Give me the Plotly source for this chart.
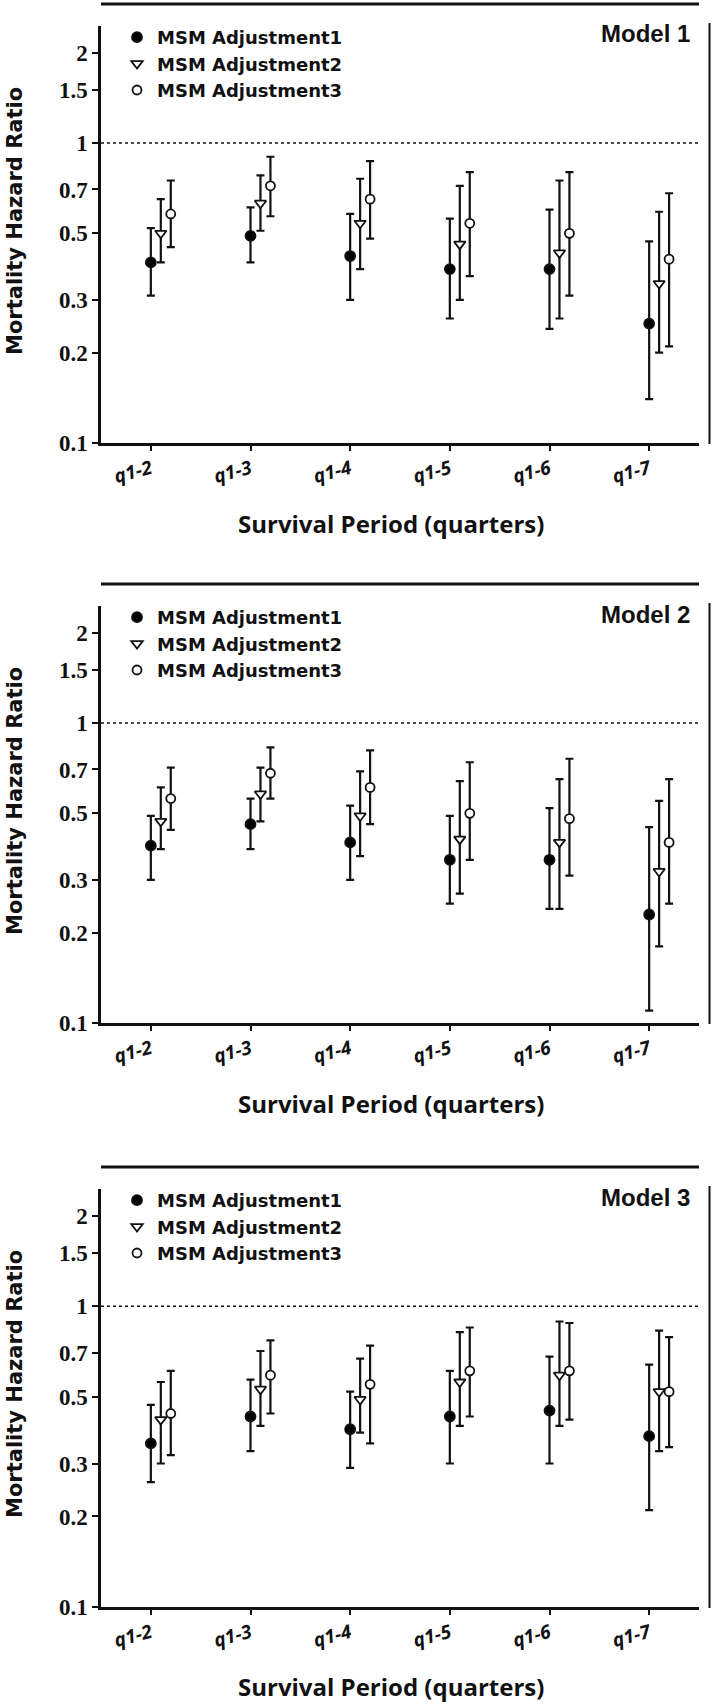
import plotly.graph_objects as go

# ---------------- data ----------------
categories = ["q1-2", "q1-3", "q1-4", "q1-5", "q1-6", "q1-7"]
series_names = ["MSM Adjustment1", "MSM Adjustment2", "MSM Adjustment3"]
panel_titles = ["Model 1", "Model 2", "Model 3"]

# Model 1
m1_a1 = [0.40, 0.49, 0.42, 0.38, 0.38, 0.25]
m1_a1_lo = [0.31, 0.40, 0.30, 0.26, 0.24, 0.14]
m1_a1_hi = [0.52, 0.61, 0.58, 0.56, 0.60, 0.47]
m1_a2 = [0.50, 0.63, 0.54, 0.46, 0.43, 0.34]
m1_a2_lo = [0.40, 0.51, 0.38, 0.30, 0.26, 0.20]
m1_a2_hi = [0.65, 0.78, 0.76, 0.72, 0.75, 0.59]
m1_a3 = [0.58, 0.72, 0.65, 0.54, 0.50, 0.41]
m1_a3_lo = [0.45, 0.57, 0.48, 0.36, 0.31, 0.21]
m1_a3_hi = [0.75, 0.90, 0.87, 0.80, 0.80, 0.68]

# Model 2
m2_a1 = [0.39, 0.46, 0.40, 0.35, 0.35, 0.23]
m2_a1_lo = [0.30, 0.38, 0.30, 0.25, 0.24, 0.11]
m2_a1_hi = [0.49, 0.56, 0.53, 0.49, 0.52, 0.45]
m2_a2 = [0.47, 0.58, 0.49, 0.41, 0.40, 0.32]
m2_a2_lo = [0.38, 0.47, 0.36, 0.27, 0.24, 0.18]
m2_a2_hi = [0.61, 0.71, 0.69, 0.64, 0.65, 0.55]
m2_a3 = [0.56, 0.68, 0.61, 0.50, 0.48, 0.40]
m2_a3_lo = [0.44, 0.56, 0.46, 0.35, 0.31, 0.25]
m2_a3_hi = [0.71, 0.83, 0.81, 0.74, 0.76, 0.65]

# Model 3
m3_a1 = [0.35, 0.43, 0.39, 0.43, 0.45, 0.37]
m3_a1_lo = [0.26, 0.33, 0.29, 0.30, 0.30, 0.21]
m3_a1_hi = [0.47, 0.57, 0.52, 0.61, 0.68, 0.64]
m3_a2 = [0.42, 0.53, 0.49, 0.56, 0.59, 0.52]
m3_a2_lo = [0.30, 0.40, 0.38, 0.40, 0.40, 0.33]
m3_a2_hi = [0.56, 0.71, 0.67, 0.82, 0.89, 0.83]
m3_a3 = [0.44, 0.59, 0.55, 0.61, 0.61, 0.52]
m3_a3_lo = [0.32, 0.44, 0.35, 0.43, 0.42, 0.34]
m3_a3_hi = [0.61, 0.77, 0.74, 0.85, 0.88, 0.79]

y_tick_vals = [0.1, 0.2, 0.3, 0.5, 0.7, 1, 1.5, 2]
y_tick_text = ["0.1", "0.2", "0.3", "0.5", "0.7", "1", "1.5", "2"]

panels = [
    [(m1_a1, m1_a1_lo, m1_a1_hi), (m1_a2, m1_a2_lo, m1_a2_hi), (m1_a3, m1_a3_lo, m1_a3_hi)],
    [(m2_a1, m2_a1_lo, m2_a1_hi), (m2_a2, m2_a2_lo, m2_a2_hi), (m2_a3, m2_a3_lo, m2_a3_hi)],
    [(m3_a1, m3_a1_lo, m3_a1_hi), (m3_a2, m3_a2_lo, m3_a2_hi), (m3_a3, m3_a3_lo, m3_a3_hi)],
]

# ---------------- layout geometry (pixels) ----------------
W, H = 714, 1705
PL, PR = 101, 699               # plot area left / right
panel_px = [(26, 443), (606, 1023), (1189, 1607)]  # plot area top / bottom
panel_offset = [0, 580, 1163]


def px_y(y):
    return 1 - y / H


def px_x(x):
    return (x - PL) / (PR - PL)


offsets = [0.0, 0.1, 0.2]
symbols = ["circle", "triangle-down", "circle"]
fills = ["black", "white", "white"]
sizes = [10, 10, 9]
legend_ids = ["legend", "legend2", "legend3"]

fig = go.Figure()
BLACK = "#111111"

for p, pdata in enumerate(panels):
    xa = "x" if p == 0 else f"x{p+1}"
    ya = "y" if p == 0 else f"y{p+1}"
    # reference line at HR = 1
    fig.add_trace(go.Scatter(
        x=[0, len(categories)], y=[1, 1], mode="lines",
        line=dict(color=BLACK, width=1.6, dash="dot"),
        showlegend=False, hoverinfo="skip", xaxis=xa, yaxis=ya,
    ))
    for s, (vals, lo, hi) in enumerate(pdata):
        xs = [i + 0.5 + offsets[s] for i in range(len(categories))]
        fig.add_trace(go.Scatter(
            x=xs, y=vals, mode="markers", name=series_names[s],
            marker=dict(symbol=symbols[s], size=sizes[s], color=fills[s],
                        line=dict(color=BLACK, width=1.8)),
            error_y=dict(type="data", symmetric=False,
                         array=[h - v for h, v in zip(hi, vals)],
                         arrayminus=[v - l for v, l in zip(vals, lo)],
                         color=BLACK, thickness=2.2, width=4),
            xaxis=xa, yaxis=ya, legend=legend_ids[p], cliponaxis=False,
        ))

layout = dict(
    width=W, height=H,
    margin=dict(l=PL, r=W - PR, t=0, b=0),
    paper_bgcolor="white", plot_bgcolor="white",
    showlegend=True,
    shapes=[], annotations=[],
)

tick_font_y = dict(family="Liberation Serif", size=23, color=BLACK, weight="bold")
tick_font_x = dict(family="Open Sans", size=19, color=BLACK, weight="bold", style="italic")

for p in range(3):
    top, bot = panel_px[p]
    off = panel_offset[p]
    xk = "xaxis" if p == 0 else f"xaxis{p+1}"
    yk = "yaxis" if p == 0 else f"yaxis{p+1}"
    ya = "y" if p == 0 else f"y{p+1}"
    xa = "x" if p == 0 else f"x{p+1}"
    layout[xk] = dict(
        domain=[0, 1], anchor=ya, range=[0, len(categories)],
        tickmode="array", tickvals=[i + 0.5 for i in range(len(categories))],
        ticktext=categories, tickangle=-15,
        showline=True, linecolor=BLACK, linewidth=2.5,
        ticks="outside", ticklen=5, tickwidth=2, tickcolor=BLACK,
        showgrid=False, zeroline=False, tickfont=tick_font_x,
        automargin=False, fixedrange=True,
    )
    layout[yk] = dict(
        domain=[px_y(bot), px_y(top)], anchor=xa, type="log",
        range=[-1, 0.39],
        tickmode="array", tickvals=y_tick_vals, ticktext=y_tick_text,
        showline=True, linecolor=BLACK, linewidth=2.5,
        ticks="outside", ticklen=6, tickwidth=2, tickcolor=BLACK,
        showgrid=False, zeroline=False, tickfont=tick_font_y,
        automargin=False, fixedrange=True,
    )
    # legend
    layout[legend_ids[p]] = dict(
        x=px_x(117), xanchor="left", y=px_y(19 + off), yanchor="top",
        bgcolor="rgba(0,0,0,0)", borderwidth=0,
        font=dict(family="DejaVu Sans", size=18, color=BLACK, weight="bold"),
        tracegroupgap=0, itemwidth=30,
    )
    # top rule
    layout["shapes"].append(dict(
        type="line", xref="paper", yref="paper",
        x0=0, x1=1, y0=px_y(4 + off), y1=px_y(4 + off),
        line=dict(color=BLACK, width=3),
    ))
    # right frame line
    layout["shapes"].append(dict(
        type="line", xref="paper", yref="paper",
        x0=px_x(709.5), x1=px_x(709.5), y0=px_y(top - 3), y1=px_y(bot + 1),
        line=dict(color=BLACK, width=2),
    ))
    # model label
    layout["annotations"].append(dict(
        text=panel_titles[p], xref="paper", yref="paper",
        x=px_x(692), y=px_y(34 + off), xanchor="right", yanchor="middle",
        showarrow=False,
        font=dict(family="Liberation Sans", size=24, color=BLACK, weight="bold"),
    ))
    # y title
    layout["annotations"].append(dict(
        text="Mortality Hazard Ratio", xref="paper", yref="paper",
        x=px_x(15), y=px_y(221 + off), xanchor="center", yanchor="middle",
        textangle=-90, showarrow=False,
        font=dict(family="DejaVu Sans", size=21, color=BLACK, weight="bold"),
    ))
    # x title
    layout["annotations"].append(dict(
        text="Survival Period (quarters)", xref="paper", yref="paper",
        x=px_x(391), y=px_y(523 + off), xanchor="center", yanchor="middle",
        showarrow=False,
        font=dict(family="Open Sans", size=24, color=BLACK, weight="bold"),
    ))

fig.update_layout(**layout)
fig.write_html("out.html",
               config={"displayModeBar": False},
               post_script="document.body.style.margin='0';document.body.style.padding='0';")
